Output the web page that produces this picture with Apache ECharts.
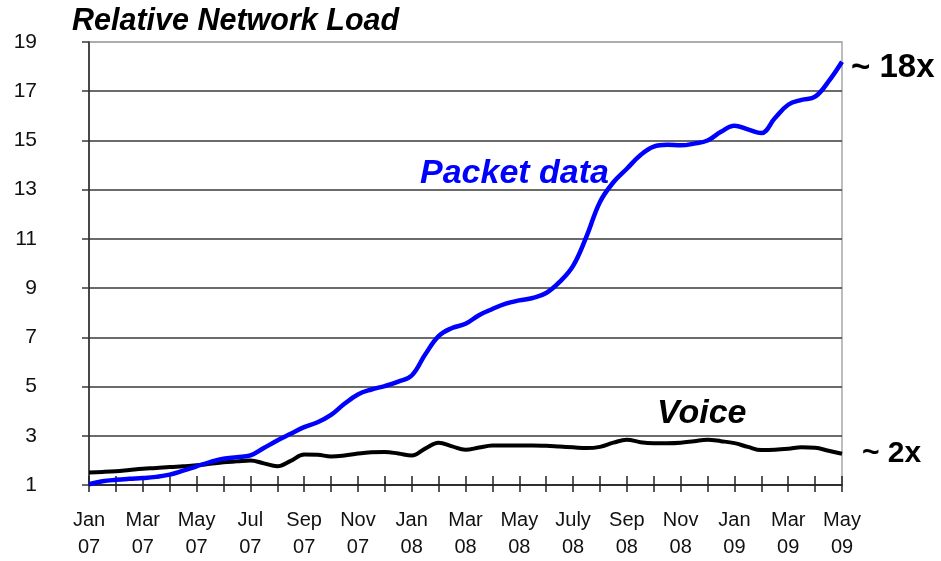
<!DOCTYPE html>
<html>
<head>
<meta charset="utf-8">
<script src="https://cdn.jsdelivr.net/npm/echarts@6/dist/echarts.min.js"></script>
<style>
  html, body { margin: 0; padding: 0; background: #fff; }
  #chart { width: 941px; height: 561px; }
</style>
</head>
<body>
<div id="chart"></div>
<script>
// tick labels, one every two months (Jan 07 .. May 09)
var monthLabels = ['Jan\n07', 'Mar\n07', 'May\n07', 'Jul\n07', 'Sep\n07', 'Nov\n07',
                   'Jan\n08', 'Mar\n08', 'May\n08', 'July\n08', 'Sep\n08', 'Nov\n08',
                   'Jan\n09', 'Mar\n09', 'May\n09'];
var yTicks = [1, 3, 5, 7, 9, 11, 13, 15, 17, 19];

// half-month samples
var packetData = [1.03, 1.15, 1.21, 1.25, 1.28, 1.33, 1.42, 1.58, 1.76, 1.93,
                  2.07, 2.13, 2.2, 2.5, 2.81, 3.08, 3.35, 3.55, 3.85, 4.3,
                  4.68, 4.88, 5.02, 5.2, 5.45, 6.3, 7.05, 7.38, 7.55, 7.9,
                  8.15, 8.37, 8.5, 8.6, 8.8, 9.25, 9.9, 11.1, 12.5, 13.3,
                  13.85, 14.4, 14.75, 14.82, 14.8, 14.87, 15.0, 15.35, 15.6, 15.45,
                  15.3, 15.9, 16.45, 16.65, 16.78, 17.4, 18.2];
var voiceData = [1.51, 1.53, 1.56, 1.61, 1.66, 1.69, 1.73, 1.76, 1.8, 1.86,
                 1.92, 1.96, 2.0, 1.88, 1.76, 1.98, 2.24, 2.23, 2.16, 2.2,
                 2.28, 2.33, 2.34, 2.28, 2.2, 2.48, 2.72, 2.57, 2.43, 2.52,
                 2.6, 2.61, 2.61, 2.61, 2.59, 2.56, 2.53, 2.5, 2.55, 2.72,
                 2.84, 2.74, 2.7, 2.7, 2.72, 2.78, 2.84, 2.78, 2.7, 2.55,
                 2.42, 2.43, 2.47, 2.53, 2.51, 2.39, 2.27];

// 57 category slots, label on every 4th (= every 2nd month)
var categories = [];
for (var i = 0; i < packetData.length; i++) {
    categories.push(i % 4 === 0 ? monthLabels[i / 4] : '');
}

var chart = echarts.init(document.getElementById('chart'));

var gridColors = yTicks.map(function(v, i) {
    return i === yTicks.length - 1 ? '#a8a8a8' : '#3a3a3a';
});

function everyMonth(index) { return index % 2 === 0; }

var option = {
    animation: false,
    backgroundColor: '#fff',
    textStyle: { fontFamily: 'Liberation Sans' },
    grid: {
        left: 89, right: 99, top: 42, bottom: 73,
        show: true,
        borderColor: '#a8a8a8',
        borderWidth: 1.5
    },
    xAxis: [
        {
            type: 'category',
            data: categories,
            boundaryGap: false,
            axisLine: { lineStyle: { color: '#222', width: 1.5 } },
            axisTick: {
                show: true,
                inside: false,
                length: 7,
                interval: everyMonth,
                lineStyle: { color: '#222', width: 1.5 }
            },
            axisLabel: {
                interval: function(index) { return index % 4 === 0; },
                margin: 22,
                color: '#111',
                fontSize: 20,
                lineHeight: 27,
                fontFamily: 'Liberation Sans'
            },
            splitLine: { show: false }
        },
        {
            // same axis again, only to draw the part of each tick above the line
            type: 'category',
            data: categories,
            boundaryGap: false,
            position: 'bottom',
            axisLine: { show: false },
            axisTick: {
                show: true,
                inside: true,
                length: 9,
                interval: everyMonth,
                lineStyle: { color: '#222', width: 1.5 }
            },
            axisLabel: { show: false },
            splitLine: { show: false }
        }
    ],
    yAxis: {
        type: 'value',
        min: 1,
        max: 19,
        interval: 2,
        axisLine: { show: true, lineStyle: { color: '#222', width: 1.5 } },
        axisTick: { show: true, length: 7, lineStyle: { color: '#3a3a3a', width: 1.5 } },
        axisLabel: {
            margin: 52,
            color: '#111',
            fontSize: 21,
            align: 'right',
            padding: [5, 0, 0, 0],
            fontFamily: 'Liberation Sans'
        },
        splitLine: { show: true, lineStyle: { color: gridColors, width: 1.5 } }
    },
    graphic: [
        {
            type: 'text', left: 72, top: 7,
            style: { text: 'Relative Network Load', fill: '#000',
                     font: 'italic bold 30.5px "Liberation Sans"' }
        },
        {
            type: 'text', left: 420, top: 157,
            style: { text: 'Packet data', fill: '#0000ff',
                     font: 'italic bold 34px "Liberation Sans"' }
        },
        {
            type: 'text', left: 657, top: 397,
            style: { text: 'Voice', fill: '#000',
                     font: 'italic bold 34px "Liberation Sans"' }
        }
    ],
    series: [
        {
            name: 'Voice',
            type: 'line',
            data: voiceData,
            smooth: 0.4,
            showSymbol: false,
            lineStyle: { color: '#000', width: 4 },
            endLabel: {
                show: true,
                formatter: '~ 2x',
                distance: 20,
                color: '#000',
                fontSize: 30,
                fontWeight: 'bold',
                fontFamily: 'Liberation Sans'
            }
        },
        {
            name: 'Packet data',
            type: 'line',
            data: packetData,
            smooth: 0.4,
            showSymbol: false,
            lineStyle: { color: '#0000ff', width: 4.5 },
            endLabel: {
                show: true,
                formatter: '~ 18x',
                distance: 9,
                offset: [0, 6],
                color: '#000',
                fontSize: 33,
                fontWeight: 'bold',
                fontFamily: 'Liberation Sans'
            }
        }
    ]
};

chart.setOption(option);
</script>
</body>
</html>
